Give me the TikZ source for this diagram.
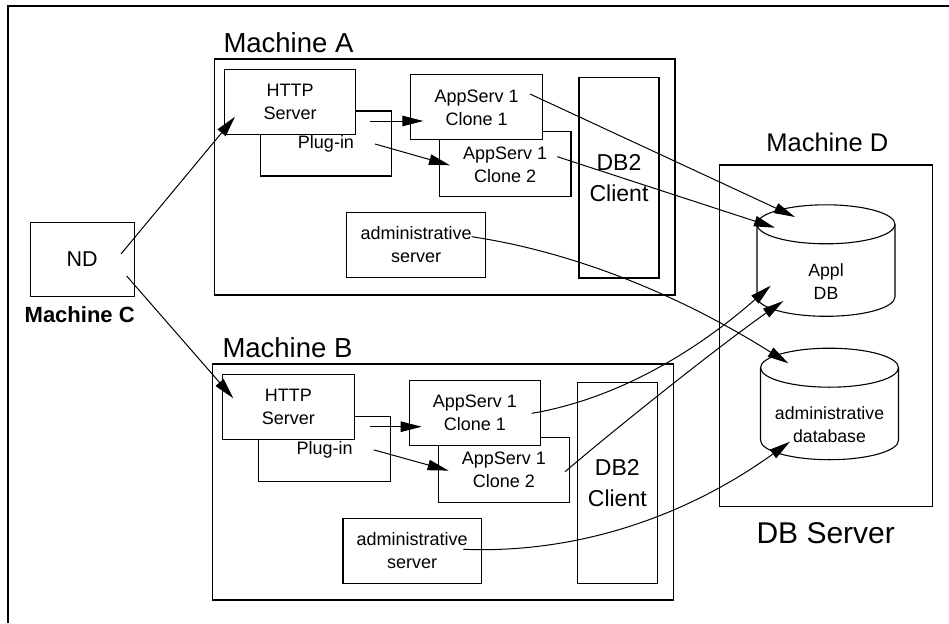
\documentclass[tikz,border=0pt]{standalone}
\usepackage{fontspec}
\setmainfont{Liberation Sans}
\usetikzlibrary{arrows.meta,calc}

\begin{document}
\begin{tikzpicture}[
  x=1pt, y=1pt, line width=1pt,
  machine/.style={draw, line width=1.1pt, inner sep=0pt},
  srv/.style={draw, fill=white, line width=1.1pt, inner sep=0pt, minimum width=131.5pt, minimum height=65pt, align=center, font=\fontsize{18}{23}\selectfont},
  adm/.style={srv, minimum width=138.5pt},
  client/.style={draw, line width=1.1pt, inner sep=0pt, minimum width=80pt, minimum height=200.3pt, align=center, font=\fontsize{23}{31}\selectfont},
  dbtext/.style={inner sep=0pt, align=center, font=\fontsize{17.7}{22.7}\selectfont},
  machlabel/.style={inner sep=0pt, font=\fontsize{27.5}{33}\selectfont},
  arrow/.style={-{Triangle[length=21pt,width=10.5pt]}, line width=1pt}
]
\useasboundingbox (0,0) rectangle (949,-623);

% Outer frame (only top and left edges show)
\draw[line width=1.1pt] (8,-623) |- (949,-6);

% Machine A
\node[machine, minimum width=460.3pt, minimum height=236pt] (macha) at (444.85,-177) {};
\node[machlabel, anchor=base west] (labela) at (223,-53) {Machine A};
\node[srv] (pluga) at (326,-143.5) {Plug-in};
\node[srv] (httpa) at (290.15,-101.8) {HTTP\\Server};
\node[srv] (clonea2) at (505.2,-164.35) {AppServ 1\\Clone 2};
\node[srv] (clonea1) at (476.65,-107.35) {AppServ 1\\Clone 1};
\node[adm] (admina) at (416.15,-245) {administrative\\server};
\node[client] (clienta) at (619,-177.85) {DB2\\Client};

% Machine B
\node[machine, minimum width=460.6pt, minimum height=236pt] (machb) at (443,-482) {};
\node[machlabel, anchor=base west] (labelb) at (222,-357.3) {Machine B};
\node[srv] (plugb) at (324.65,-449.35) {Plug-in};
\node[srv] (httpb) at (288.35,-406.65) {HTTP\\Server};
\node[srv] (cloneb2) at (503.8,-469.65) {AppServ 1\\Clone 2};
\node[srv] (cloneb1) at (474.8,-412.8) {AppServ 1\\Clone 1};
\node[adm] (adminb) at (412.2,-550.65) {administrative\\server};
\node[client] (clientb) at (617.3,-483) {DB2\\Client};

% Machine C
\node[draw, line width=1.1pt, minimum width=104.3pt, minimum height=73.7pt, font=\fontsize{21.5}{26}\selectfont] (nd) at (82.2,-259.2) {ND};
\node[inner sep=0pt, anchor=base, font=\fontsize{22}{26}\selectfont\bfseries] (labelc) at (79.7,-322.7) {Machine C};

% Machine D
\node[machine, minimum width=213.2pt, minimum height=341.7pt] (machd) at (825.9,-335.85) {};
\node[inner sep=0pt, anchor=base, font=\fontsize{25.5}{30}\selectfont] (labeld) at (827.3,-151.7) {Machine D};
\node[dbtext] (appldb) at (826,-281.3) {Appl\\DB};
\node[dbtext] (admindb) at (829.5,-424.7) {administrative\\database};
\node[inner sep=0pt, anchor=base, font=\fontsize{30}{36}\selectfont] (labelsrv) at (825.7,-543.3) {DB Server};

% database cylinders
\draw[line width=1.1pt] ([shift={(-69,57)}]appldb.center) -- ([shift={(-69,-15.5)}]appldb.center)
  arc[start angle=180, end angle=360, x radius=69, y radius=19.5] -- ([shift={(69,57)}]appldb.center);
\draw[line width=1.1pt] ([yshift=57pt]appldb.center) ellipse [x radius=69, y radius=19.5];
\draw[line width=1.1pt] ([shift={(-69,57)}]admindb.center) -- ([shift={(-69,-15.5)}]admindb.center)
  arc[start angle=180, end angle=360, x radius=69, y radius=19.5] -- ([shift={(69,57)}]admindb.center);
\draw[line width=1.1pt] ([yshift=57pt]admindb.center) ellipse [x radius=69, y radius=19.5];

% ND to the HTTP servers
\draw[arrow] ($(nd.center)+(38.8,5.2)$) -- ($(httpa.center)+(-55.15,-14.9)$);
\draw[arrow] ($(nd.center)+(44.5,-16.8)$) -- ($(httpb.center)+(-55,8.35)$);

% plug-in to the clones
\draw[arrow] ($(httpa.center)+(79.85,-19.2)$) -- ($(clonea1.center)+(-53.35,-13.65)$);
\draw[arrow] ($(pluga.center)+(49,-0.5)$) -- ($(clonea2.center)+(-55.2,-0.95)$);
\draw[arrow] ($(httpb.center)+(81.65,-20.05)$) -- ($(cloneb1.center)+(-53.1,-13.9)$);
\draw[arrow] ($(plugb.center)+(49,-0.5)$) -- ($(cloneb2.center)+(-55.2,-0.95)$);

% clones and admin servers to the databases
\draw[arrow] ($(clonea1.center)+(53.35,13.35)$) -- ($(appldb.center)+(-31,64.3)$);
\draw[arrow] ($(clonea2.center)+(52.1,7.65)$) -- ($(appldb.center)+(-51,53.6)$);
\draw[arrow] ($(admina.center)+(55.55,8.3)$) .. controls +(101.1,-15.2) and +(-109.9,69.2) .. ($(admindb.center)+(-41.2,61.4)$);
\draw[arrow] ($(cloneb1.center)+(56.9,-0.5)$) .. controls +(77.2,12.8) and +(-82.1,-72.3) .. ($(appldb.center)+(-55.3,-4.4)$);
\draw[arrow] ($(cloneb2.center)+(61.2,-2.05)$) .. controls +(60,51) and +(-60,-42) .. ($(appldb.center)+(-42.7,-19.7)$);
\draw[arrow] ($(adminb.center)+(51.1,1.35)$) .. controls +(111.9,-4.5) and +(-105.9,-76.2) .. ($(admindb.center)+(-39.5,-17)$);
\end{tikzpicture}
\end{document}
